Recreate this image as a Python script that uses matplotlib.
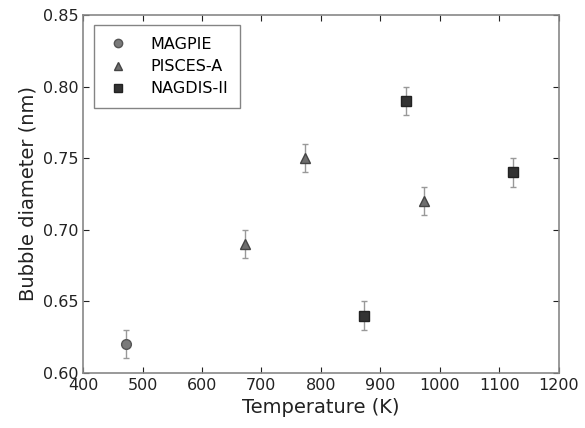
import matplotlib
matplotlib.use("Agg")
import matplotlib.pyplot as plt
from matplotlib.lines import Line2D

magpie_T = [473]
magpie_d = [0.62]
pisces_T = [673, 773, 973]
pisces_d = [0.69, 0.75, 0.72]
nagdis_T = [873, 943, 1123]
nagdis_d = [0.64, 0.79, 0.74]
err = 0.01

fig = plt.figure(figsize=(5.85, 4.28), dpi=100)
ax = fig.add_axes([0.142, 0.129, 0.813, 0.836])

styles = [
    dict(marker='o', ms=7, mfc='#7a7a7a', mec='#555555'),
    dict(marker='^', ms=7, mfc='#6e6e6e', mec='#444444'),
    dict(marker='s', ms=6.5, mfc='#333333', mec='#222222'),
]
labels = ['MAGPIE', 'PISCES-A', 'NAGDIS-II']
ekw = dict(ecolor='#999999', elinewidth=1.0, capsize=2.5, capthick=1.0, linestyle='none')
for (T, d), st in zip([(magpie_T, magpie_d), (pisces_T, pisces_d), (nagdis_T, nagdis_d)], styles):
    ax.errorbar(T, d, yerr=err, **st, **ekw)

ax.set_xlim(400, 1200)
ax.set_ylim(0.60, 0.85)
ax.set_xticks(range(400, 1201, 100))
ax.set_yticks([0.60, 0.65, 0.70, 0.75, 0.80, 0.85])
ax.set_yticklabels(['0.60', '0.65', '0.70', '0.75', '0.80', '0.85'])
ax.tick_params(direction='in', top=True, right=True, labelsize=11.5, colors='#222222', length=4)
for s in ax.spines.values():
    s.set_color('#888888')
    s.set_linewidth(1.2)
ax.set_xlabel('Temperature (K)', fontsize=14, color='#222222')
ax.set_ylabel('Bubble diameter (nm)', fontsize=14, color='#222222')

handles = []
for st in styles:
    h = dict(st)
    h['ms'] = 6
    handles.append(Line2D([], [], linestyle='none', **h))
leg = ax.legend(handles, labels, loc='upper left', numpoints=1, fontsize=11.5, frameon=True, fancybox=False,
                borderpad=0.75, labelspacing=0.45, handletextpad=1.3, handlelength=1.5,
                borderaxespad=0, bbox_to_anchor=(0.023, 0.972))
leg.get_frame().set_edgecolor('#666666')
leg.get_frame().set_linewidth(1.0)
fig.savefig('out.png', dpi=100)
